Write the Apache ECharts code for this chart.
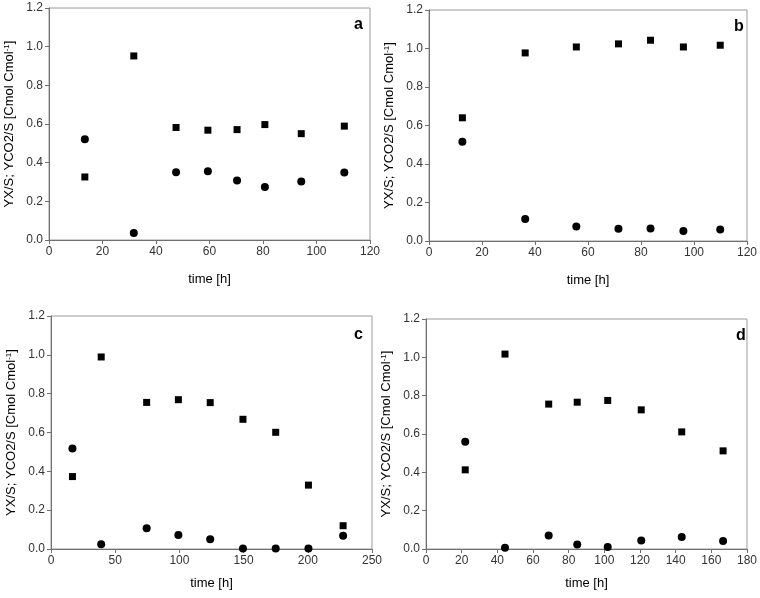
<!DOCTYPE html>
<html>
<head>
<meta charset="utf-8">
<script src="https://cdn.jsdelivr.net/npm/echarts@6/dist/echarts.min.js"></script>
<style>html,body{margin:0;padding:0;background:#fff}#c{width:760px;height:598px}</style>
</head>
<body>
<div id="c"></div>
<script>
// Panel a
var aTime   = [13.4, 31.7, 47.5, 59.4, 70.3, 80.7, 94.3, 110.4];
var aSquare = [0.326, 0.952, 0.582, 0.568, 0.571, 0.597, 0.550, 0.589];
var aCircle = [0.521, 0.036, 0.350, 0.355, 0.308, 0.274, 0.302, 0.349];
// Panel b
var bTime   = [12.6, 36.3, 55.6, 71.5, 83.6, 96.0, 109.9];
var bSquare = [0.640, 0.977, 1.008, 1.024, 1.043, 1.008, 1.017];
var bCircle = [0.515, 0.114, 0.075, 0.063, 0.065, 0.052, 0.060];
// Panel c
var cTime   = [16.7, 39.1, 74.5, 99.2, 124.0, 149.5, 175.0, 200.5, 227.5];
var cSquare = [0.373, 0.989, 0.755, 0.769, 0.754, 0.668, 0.601, 0.329, 0.120];
var cCircle = [0.517, 0.024, 0.107, 0.072, 0.050, 0.003, 0.003, 0.003, 0.068];
// Panel d
var dTime   = [22.0, 44.3, 68.8, 84.8, 101.9, 120.7, 143.4, 166.6];
var dSquare = [0.413, 1.017, 0.756, 0.766, 0.775, 0.726, 0.611, 0.512];
var dCircle = [0.559, 0.007, 0.070, 0.024, 0.010, 0.045, 0.063, 0.042];

var panelLetters = ['a', 'b', 'c', 'd'];
var xMax = [120, 120, 250, 180];
var xInterval = [20, 20, 50, 20];
var yTitle = 'YX/S; YCO2/S [Cmol Cmol{sup|-1}]';
var xTitle = 'time [h]';

var panels = [
  {t: aTime, s: aSquare, c: aCircle},
  {t: bTime, s: bSquare, c: bCircle},
  {t: cTime, s: cSquare, c: cCircle},
  {t: dTime, s: dSquare, c: dCircle}
];
var grids = [
  {left: 49, top: 8, width: 321, height: 232},
  {left: 429, top: 10, width: 319, height: 231},
  {left: 51, top: 316, width: 321, height: 233},
  {left: 426, top: 319, width: 322, height: 230}
];
var letterPos = [[349, 12], [729, 14], [349, 322], [731, 323]];
var xNameGap = [33, 33, 28, 28];

function zip(x, y) { return x.map(function (v, i) { return [v, y[i]]; }); }

var font = 'Liberation Sans, Arial, sans-serif';
var option = {
  backgroundColor: '#fff',
  animation: false,
  title: [], grid: [], xAxis: [], yAxis: [], series: []
};
grids.forEach(function (g, i) {
  option.grid.push({left: g.left, top: g.top, width: g.width, height: g.height,
    show: true, borderColor: '#9a9a9a', borderWidth: 1, backgroundColor: 'transparent'});
  option.title.push({text: panelLetters[i], left: letterPos[i][0], top: letterPos[i][1],
    textStyle: {fontFamily: font, fontSize: 16, fontWeight: 'bold', color: '#000'}});
  option.xAxis.push({
    type: 'value', gridIndex: i, min: 0, max: xMax[i], interval: xInterval[i],
    name: xTitle, nameLocation: 'middle', nameGap: xNameGap[i],
    nameTextStyle: {fontFamily: font, fontSize: 13, color: '#000'},
    axisLine: {show: true, onZero: false, lineStyle: {color: '#707070', width: 1}},
    axisTick: {show: true, inside: false, length: 4, lineStyle: {color: '#707070'}},
    axisLabel: {fontFamily: font, fontSize: 12, color: '#333', margin: 6},
    splitLine: {show: false}
  });
  option.yAxis.push({
    type: 'value', gridIndex: i, min: 0, max: 1.2, interval: 0.2,
    name: yTitle, nameLocation: 'middle', nameGap: 33,
    nameTextStyle: {fontFamily: font, fontSize: 13, color: '#000',
      rich: {sup: {fontFamily: font, fontSize: 8, color: '#000', verticalAlign: 'top', lineHeight: 10, padding: [0, 0, 6, 0]}}},
    axisLine: {show: true, onZero: false, lineStyle: {color: '#707070', width: 1}},
    axisTick: {show: true, inside: false, length: 4, lineStyle: {color: '#707070'}},
    axisLabel: {fontFamily: font, fontSize: 12, color: '#333', margin: 6,
      formatter: function (v) { return v.toFixed(1); }},
    splitLine: {show: false}
  });
  var p = panels[i];
  option.series.push({type: 'scatter', xAxisIndex: i, yAxisIndex: i, symbol: 'rect', symbolSize: 7,
    itemStyle: {color: '#000', opacity: 1}, data: zip(p.t, p.s)});
  option.series.push({type: 'scatter', xAxisIndex: i, yAxisIndex: i, symbol: 'circle', symbolSize: 8,
    itemStyle: {color: '#000', opacity: 1}, data: zip(p.t, p.c)});
});
var chart = echarts.init(document.getElementById('c'), null, {renderer: 'canvas'});
chart.setOption(option);
</script>
</body>
</html>
